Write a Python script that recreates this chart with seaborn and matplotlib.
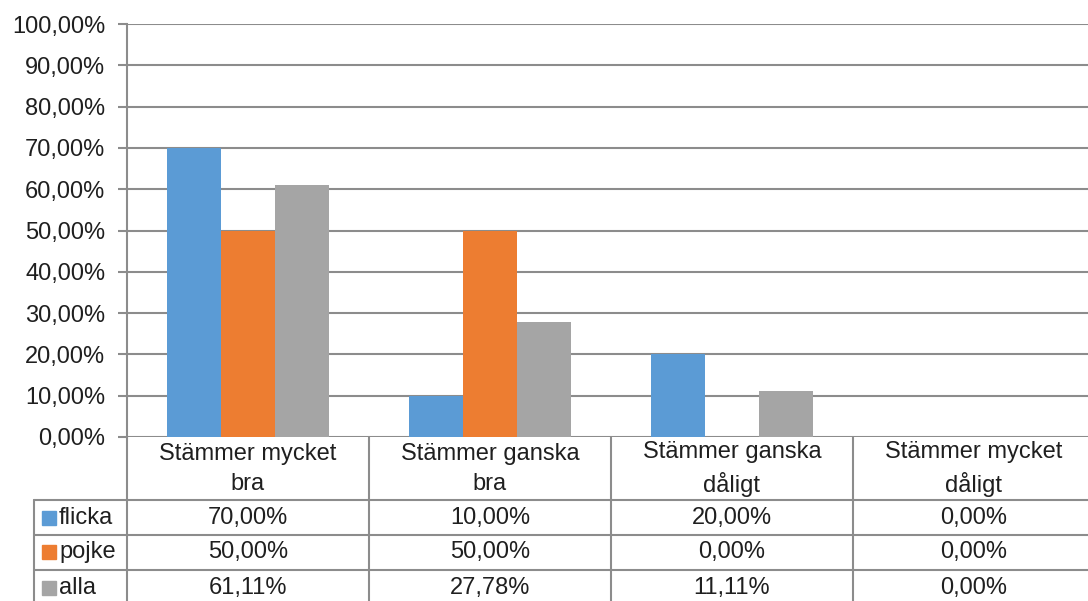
import pandas as pd
import seaborn as sns
import matplotlib.pyplot as plt
from matplotlib.ticker import FuncFormatter, MultipleLocator
from matplotlib.patches import Rectangle

# chart data
kategorier = ["Stämmer mycket\nbra", "Stämmer ganska\nbra", "Stämmer ganska\ndåligt", "Stämmer mycket\ndåligt"]
grupper = ["flicka", "pojke", "alla"]
flicka = [70.00, 10.00, 20.00, 0.00]
pojke = [50.00, 50.00, 0.00, 0.00]
alla = [61.11, 27.78, 11.11, 0.00]
farger = ["#5B9BD5", "#ED7D31", "#A5A5A5"]

rows = []
for g, vals in zip(grupper, [flicka, pojke, alla]):
    for k, v in zip(kategorier, vals):
        rows.append({"kategori": k, "grupp": g, "andel": v})
df = pd.DataFrame(rows)

sns.set_style("white")
plt.rcParams['font.family'] = ['Liberation Sans', 'DejaVu Sans']
txt = "#1f1f1f"
line_c = "#8C8C8C"
fs = 17

W, H = 1088, 601
fig = plt.figure(figsize=(W / 100, H / 100), dpi=100)

# main bar axes (right edge runs slightly past the image)
ax = fig.add_axes([127 / W, (H - 437) / H, 968 / W, (437 - 24) / H])
sns.barplot(data=df, x="kategori", y="andel", hue="grupp", palette=farger,
            width=0.67, saturation=1, linewidth=0, legend=False, ax=ax)
ax.set_xlim(-0.5, 3.5)
ax.set_ylim(0, 100)
ax.yaxis.set_major_locator(MultipleLocator(10))
ax.yaxis.set_major_formatter(FuncFormatter(lambda v, p: f"{v:.2f}%".replace(".", ",")))
ax.grid(axis="y", color=line_c, linewidth=1.5)
ax.set_axisbelow(True)
for s in ["top", "right", "bottom"]:
    ax.spines[s].set_visible(False)
ax.spines["left"].set_color(line_c)
ax.spines["left"].set_linewidth(1.5)
ax.tick_params(axis="y", left=True, length=6.5, width=1.5, color=line_c,
               labelsize=fs, labelcolor=txt, pad=9)
ax.set_xticks([])
ax.set_xlabel("")
ax.set_ylabel("")

# data table under the chart
tb = fig.add_axes([34 / W, (H - 605) / H, 1061 / W, (605 - 437) / H])
x_left = -0.5 - 93 / 242
tb.set_xlim(x_left, 3.5)
tb.set_ylim(605, 437)
tb.axis("off")

lk = dict(color=line_c, linewidth=1.5, clip_on=False)
tb.plot([-0.5, -0.5], [437, 605], **lk)
for i in range(1, 4):
    tb.plot([i - 0.5, i - 0.5], [437, 605], **lk)
tb.plot([x_left, x_left], [500, 605], **lk)
for y in [500, 535, 570]:
    tb.plot([x_left, 3.5], [y, y], **lk)

for i, k in enumerate(kategorier):
    tb.text(i, 469, k, ha="center", va="center", fontsize=fs, color=txt, linespacing=1.45)

row_y = [518, 552, 588]
for g, vals, c, y in zip(grupper, [flicka, pojke, alla], farger, row_y):
    tb.add_patch(Rectangle((x_left + 8 / 242, y - 7), 14 / 242, 14, color=c, clip_on=False))
    tb.text(x_left + 25 / 242, y, g, ha="left", va="center", fontsize=fs, color=txt)
    for i, v in enumerate(vals):
        tb.text(i, y, f"{v:.2f}%".replace(".", ","), ha="center", va="center",
                fontsize=fs, color=txt)

fig.savefig("out.png", dpi=100)
